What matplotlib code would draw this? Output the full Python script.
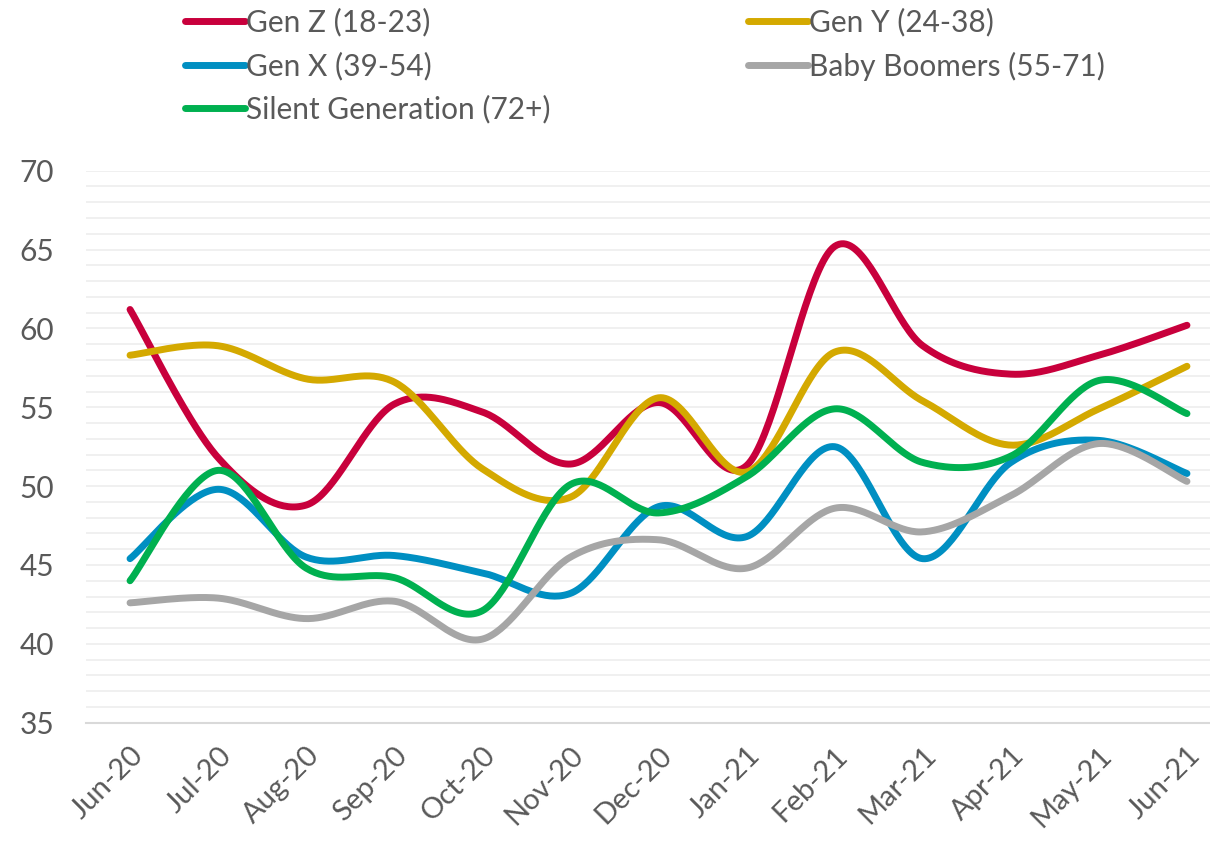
import numpy as np
import matplotlib
matplotlib.use("Agg")
import matplotlib.pyplot as plt

months = ["Jun-20", "Jul-20", "Aug-20", "Sep-20", "Oct-20", "Nov-20", "Dec-20",
          "Jan-21", "Feb-21", "Mar-21", "Apr-21", "May-21", "Jun-21"]
gen_z = [61.2, 51.8, 48.8, 55.2, 54.7, 51.4, 55.3, 51.3, 65.2, 58.9, 57.1, 58.3, 60.2]
gen_y = [58.3, 58.9, 56.8, 56.6, 51.1, 49.3, 55.6, 50.9, 58.5, 55.4, 52.6, 54.9, 57.6]
gen_x = [45.4, 49.8, 45.5, 45.6, 44.5, 43.2, 48.7, 46.8, 52.5, 45.4, 51.5, 52.9, 50.8]
boomers = [42.6, 42.9, 41.6, 42.7, 40.3, 45.5, 46.6, 44.8, 48.6, 47.1, 49.4, 52.7, 50.3]
silent = [44.0, 51.0, 44.8, 44.2, 42.1, 50.1, 48.3, 50.6, 54.9, 51.5, 51.9, 56.7, 54.6]

series = [
    ("Gen Z (18-23)", gen_z, "#C8003C"),
    ("Gen Y (24-38)", gen_y, "#D4A900"),
    ("Gen X (39-54)", gen_x, "#008FC2"),
    ("Baby Boomers (55-71)", boomers, "#A6A6A6"),
    ("Silent Generation (72+)", silent, "#00B050"),
]

plt.rcParams['font.family'] = ['Lato', 'DejaVu Sans']
TXT = "#595959"


def smooth(xs, ys, n=40):
    xs = np.asarray(xs, float)
    ys = np.asarray(ys, float)
    P = np.column_stack([xs, ys])
    out = []
    m = len(P)
    for i in range(m - 1):
        p0 = P[i - 1] if i > 0 else P[i]
        p1 = P[i]
        p2 = P[i + 1]
        p3 = P[i + 2] if i + 2 < m else P[i + 1]
        c1 = p1 + (p2 - p0) / 6.0
        c2 = p2 - (p3 - p1) / 6.0
        t = np.linspace(0, 1, n)[:, None]
        seg = ((1 - t) ** 3) * p1 + 3 * ((1 - t) ** 2) * t * c1 + 3 * (1 - t) * t ** 2 * c2 + t ** 3 * p2
        if i > 0:
            seg = seg[1:]
        out.append(seg)
    out = np.vstack(out)
    return out[:, 0], out[:, 1]


W, H = 1210, 844
fig = plt.figure(figsize=(W / 100, H / 100), dpi=100)
ax = fig.add_axes([86 / W, 1 - 722.7 / H, 1145 / W, 552 / H])

x = np.arange(len(months))
handles = []
for name, vals, col in series:
    sx, sy = smooth(x, vals)
    ln, = ax.plot(sx, sy, color=col, lw=5, solid_capstyle='round', solid_joinstyle='round', label=name)
    handles.append(ln)

ax.set_xlim(-0.5, len(months) - 0.5)
ax.set_ylim(35, 70)
ax.set_yticks(np.arange(35, 71, 5))
ax.set_yticks(np.arange(35, 71, 1), minor=True)
ax.grid(True, which='both', axis='y', color='#EFEFEF', lw=1.3)
ax.set_axisbelow(True)
for s in ['top', 'right', 'left']:
    ax.spines[s].set_visible(False)
ax.spines['bottom'].set_color('#D9D9D9')
ax.spines['bottom'].set_linewidth(1.5)
ax.tick_params(axis='both', which='both', length=0)
ax.tick_params(axis='y', labelsize=21.5, labelcolor=TXT, pad=23)
ax.set_xticks(x)
ax.set_xticklabels(months, rotation=45, ha='right', rotation_mode='anchor',
                   fontsize=21, color=TXT)
ax.tick_params(axis='x', pad=14)

order = [0, 2, 4, 1, 3]
leg = fig.legend([handles[i] for i in order], [series[i][0] for i in order],
                 ncol=2, loc='upper left', bbox_to_anchor=(185 / W, 1 - 8 / H),
                 frameon=False, fontsize=21.5, handlelength=2.0, handletextpad=0.05,
                 columnspacing=6.6, labelspacing=0.5, borderpad=0, borderaxespad=0)
for t in leg.get_texts():
    t.set_color(TXT)

fig.savefig("out.png", dpi=100)
